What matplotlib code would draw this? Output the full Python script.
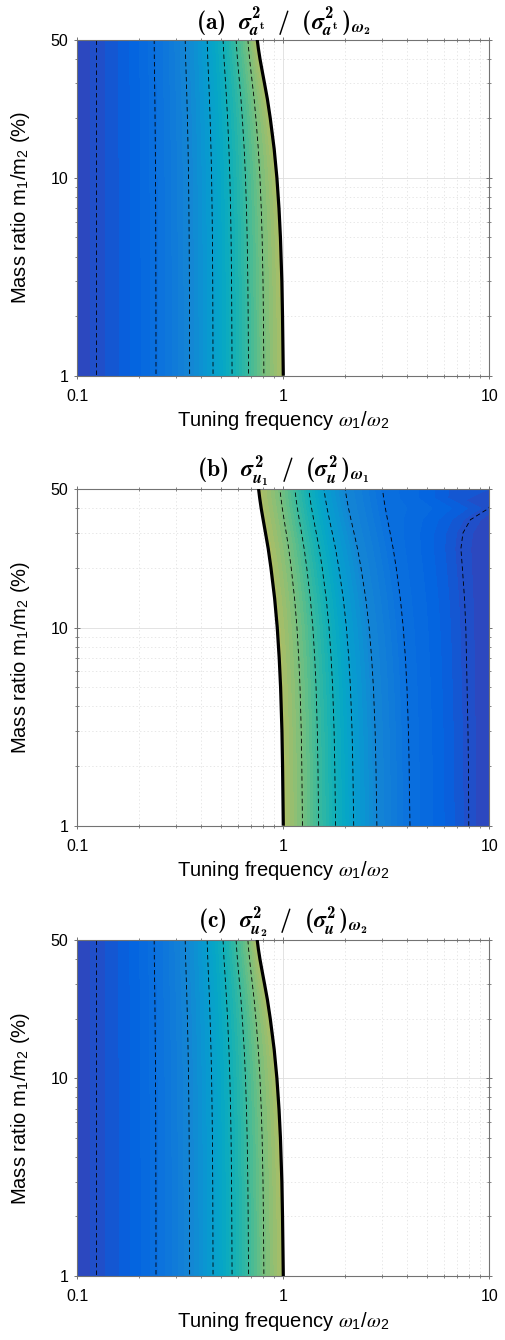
import numpy as np
import matplotlib
matplotlib.use('Agg')
import matplotlib.pyplot as plt
from matplotlib.colors import LinearSegmentedColormap, Normalize
from matplotlib.ticker import LogLocator, NullFormatter, FixedLocator

plt.rcParams['font.family'] = ['Liberation Sans', 'DejaVu Sans']
plt.rcParams['mathtext.fontset'] = 'custom'
plt.rcParams['mathtext.rm'] = 'cmb10'
plt.rcParams['mathtext.bf'] = 'cmb10'
plt.rcParams['mathtext.it'] = 'STIXGeneral:italic:bold'
plt.rcParams['lines.scale_dashes'] = False

# ---------------- data ----------------
# Mass ratio rows (%) shared by all panels
mass_a = [1, 2, 3, 5, 7, 10, 14, 20, 25, 30, 35, 40, 45, 50]
# Panel (a): contour value of each column; omega_a = position of that value
levels_a = [0.10, 0.125, 0.25, 0.375, 0.5, 0.625, 0.75, 0.875, 1.0]
omega_a = [
    [0.1, 0.123, 0.2410, 0.3510, 0.4560, 0.5640, 0.6780, 0.8050, 1.0000],
    [0.1, 0.123, 0.2409, 0.3505, 0.4551, 0.5623, 0.6752, 0.8007, 0.9913],
    [0.1, 0.123, 0.2407, 0.3500, 0.4544, 0.5609, 0.6728, 0.7971, 0.9841],
    [0.1, 0.123, 0.2404, 0.3491, 0.4527, 0.5578, 0.6677, 0.7893, 0.9684],
    [0.1, 0.123, 0.2402, 0.3481, 0.4511, 0.5547, 0.6626, 0.7815, 0.9530],
    [0.1, 0.123, 0.2398, 0.3468, 0.4487, 0.5503, 0.6553, 0.7704, 0.9310],
    [0.1, 0.123, 0.2392, 0.3449, 0.4456, 0.5445, 0.6459, 0.7561, 0.9029],
    [0.1, 0.123, 0.2385, 0.3424, 0.4412, 0.5363, 0.6325, 0.7360, 0.8643],
    [0.1, 0.123, 0.2380, 0.3405, 0.4380, 0.5304, 0.6229, 0.7217, 0.8370],
    [0.1, 0.123, 0.2374, 0.3387, 0.4349, 0.5246, 0.6135, 0.7076, 0.8106],
    [0.1, 0.123, 0.2370, 0.3371, 0.4322, 0.5196, 0.6055, 0.6956, 0.7884],
    [0.1, 0.123, 0.2365, 0.3357, 0.4299, 0.5154, 0.5988, 0.6857, 0.7702],
    [0.1, 0.123, 0.2363, 0.3347, 0.4282, 0.5123, 0.5938, 0.6784, 0.7568],
    [0.1, 0.123, 0.2361, 0.3340, 0.4269, 0.5100, 0.5901, 0.6730, 0.7470],
]

# Panel (c) (same look as panel (a))
mass_c = [1, 2, 3, 5, 7, 10, 14, 20, 25, 30, 35, 40, 45, 50]
levels_c = [0.10, 0.125, 0.25, 0.375, 0.5, 0.625, 0.75, 0.875, 1.0]
omega_c = [
    [0.1, 0.123, 0.2410, 0.3510, 0.4560, 0.5640, 0.6780, 0.8050, 1.0000],
    [0.1, 0.123, 0.2409, 0.3505, 0.4551, 0.5623, 0.6752, 0.8007, 0.9913],
    [0.1, 0.123, 0.2407, 0.3500, 0.4544, 0.5609, 0.6728, 0.7971, 0.9841],
    [0.1, 0.123, 0.2404, 0.3491, 0.4527, 0.5578, 0.6677, 0.7893, 0.9684],
    [0.1, 0.123, 0.2402, 0.3481, 0.4511, 0.5547, 0.6626, 0.7815, 0.9530],
    [0.1, 0.123, 0.2398, 0.3468, 0.4487, 0.5503, 0.6553, 0.7704, 0.9310],
    [0.1, 0.123, 0.2392, 0.3449, 0.4456, 0.5445, 0.6459, 0.7561, 0.9029],
    [0.1, 0.123, 0.2385, 0.3424, 0.4412, 0.5363, 0.6325, 0.7360, 0.8643],
    [0.1, 0.123, 0.2380, 0.3405, 0.4380, 0.5304, 0.6229, 0.7217, 0.8370],
    [0.1, 0.123, 0.2374, 0.3387, 0.4349, 0.5246, 0.6135, 0.7076, 0.8106],
    [0.1, 0.123, 0.2370, 0.3371, 0.4322, 0.5196, 0.6055, 0.6956, 0.7884],
    [0.1, 0.123, 0.2365, 0.3357, 0.4299, 0.5154, 0.5988, 0.6857, 0.7702],
    [0.1, 0.123, 0.2363, 0.3347, 0.4282, 0.5123, 0.5938, 0.6784, 0.7568],
    [0.1, 0.123, 0.2361, 0.3340, 0.4269, 0.5100, 0.5901, 0.6730, 0.7470],
]

# Panel (b)
mass_b = [1, 2, 3, 5, 7, 10, 14, 20, 25, 30, 35, 40, 45, 50]
levels_b = [1.0, 0.875, 0.75, 0.625, 0.5, 0.375, 0.25]
low_value_b = [0.125, 0.125, 0.125, 0.125, 0.125, 0.125, 0.125,
               0.125, 0.125, 0.125, 0.125, 0.125, 0.145, 0.160]
edge_value_b = [0.100, 0.100, 0.100, 0.100, 0.100, 0.100, 0.100,
                0.100, 0.100, 0.102, 0.110, 0.124, 0.132, 0.140]
omega_b = [
    [1.0000, 1.2392, 1.4845, 1.7939, 2.1968, 2.8464, 4.1200, 7.95, 10.0],
    [0.9917, 1.2298, 1.4726, 1.7779, 2.1752, 2.8164, 4.0822, 7.92, 10.0],
    [0.9849, 1.2222, 1.4628, 1.7645, 2.1572, 2.7913, 4.0513, 7.88, 10.0],
    [0.9701, 1.2055, 1.4421, 1.7359, 2.1179, 2.7378, 3.9829, 7.80, 10.0],
    [0.9554, 1.1885, 1.4210, 1.7074, 2.0797, 2.6847, 3.9165, 7.75, 10.0],
    [0.9346, 1.1650, 1.3912, 1.6670, 2.0249, 2.6097, 3.8211, 7.69, 10.0],
    [0.9078, 1.1345, 1.3527, 1.6153, 1.9552, 2.5136, 3.7000, 7.58, 10.0],
    [0.8710, 1.0925, 1.2999, 1.5444, 1.8603, 2.3833, 3.5332, 7.40, 10.0],
    [0.8449, 1.0624, 1.2625, 1.4941, 1.7935, 2.2925, 3.4156, 7.28, 10.0],
    [0.8196, 1.0335, 1.2261, 1.4454, 1.7290, 2.2045, 3.3018, 7.45, 10.0],
    [0.7984, 1.0090, 1.1955, 1.4047, 1.6749, 2.1316, 3.2066, 8.10, 10.0],
    [0.7809, 0.9888, 1.1700, 1.3714, 1.6312, 2.0722, 3.1285, 9.95, 10.0],
    [0.7681, 0.9739, 1.1517, 1.3470, 1.5988, 2.0282, 3.0714, 7.00, 10.0],
    [0.7586, 0.9629, 1.1379, 1.3289, 1.5751, 1.9963, 3.0292, 6.50, 10.0],
]
values_b = [levels_b + [lo, ed] for lo, ed in zip(low_value_b, edge_value_b)]

dashed_levels = [0.125, 0.25, 0.375, 0.5, 0.625, 0.75, 0.875]
boundary_level = 1.0

titles = [
    r'$\mathrm{(a)}\ \ \sigma^2_{a^\mathrm{t}}\ \ /\ \ (\sigma^2_{a^\mathrm{t}}\,)_{\omega_2}$',
    r'$\mathrm{(b)}\ \ \sigma^2_{u_1}\ \ /\ \ (\sigma^2_{u}\,)_{\omega_1}$',
    r'$\mathrm{(c)}\ \ \sigma^2_{u_2}\ \ /\ \ (\sigma^2_{u}\,)_{\omega_2}$',
]

# ---------------- style ----------------
parula_anchors = [
    (0.2081, 0.1663, 0.5292), (0.1959, 0.2645, 0.7279), (0.0117, 0.3875, 0.8820),
    (0.0498, 0.4586, 0.8641), (0.0793, 0.5200, 0.8312), (0.0343, 0.5966, 0.8199),
    (0.0228, 0.6535, 0.7768), (0.0843, 0.6928, 0.7062), (0.2178, 0.7250, 0.6193),
    (0.3953, 0.7459, 0.5244), (0.5709, 0.7485, 0.4494), (0.7248, 0.7384, 0.3675),
    (0.8640, 0.7218, 0.2866), (0.9706, 0.7312, 0.2348), (0.9865, 0.8033, 0.1765),
    (0.9597, 0.8952, 0.1295), (0.9763, 0.9831, 0.0538),
]
parula = LinearSegmentedColormap.from_list('parula_like', parula_anchors, N=256)
norm = Normalize(vmin=0.0, vmax=1.5)
fill_levels = np.arange(0, 44) * 1.5 / 64

W, H = 506, 1340
fig = plt.figure(figsize=(W / 100, H / 100), dpi=100)

panel_px = [(39.5, 375.7), (489.0, 825.7), (940.0, 1276.0)]
left_px, right_px = 77.3, 489.3

datasets = [
    (omega_a, mass_a, [levels_a] * len(mass_a)),
    (omega_b, mass_b, values_b),
    (omega_c, mass_c, [levels_c] * len(mass_c)),
]

for k, ((om, ms, vals), (top, bot)) in enumerate(zip(datasets, panel_px)):
    ax = fig.add_axes([left_px / W, 1 - bot / H, (right_px - left_px) / W, (bot - top) / H])
    X = np.array(om, dtype=float)
    Y = np.repeat(np.array(ms, dtype=float)[:, None], X.shape[1], axis=1)
    Z = np.array(vals, dtype=float)

    ax.set_xscale('log')
    ax.set_yscale('log')
    ax.contourf(X, Y, Z, levels=fill_levels, cmap=parula, norm=norm, zorder=1)
    ax.contour(X, Y, Z, levels=[l - 1e-9 for l in dashed_levels], colors='k',
               linewidths=0.6, linestyles=[(0, (3.2, 2.2))], zorder=2)
    ax.contour(X, Y, Z, levels=[boundary_level - 1e-9], colors='k', linewidths=2.3, zorder=3)

    ax.set_xlim(0.1, 10)
    ax.set_ylim(1, 50)
    ax.set_xticks([0.1, 1, 10], ['0.1', '1', '10'])
    ax.set_yticks([1, 10, 50], ['1', '10', '50'])
    ax.xaxis.set_minor_locator(LogLocator(base=10, subs=np.arange(2, 10)))
    ax.xaxis.set_minor_formatter(NullFormatter())
    ax.yaxis.set_minor_locator(FixedLocator([2, 3, 4, 5, 6, 7, 8, 9, 20, 30, 40]))
    ax.yaxis.set_minor_formatter(NullFormatter())

    ax.set_axisbelow(True)
    ax.grid(which='major', color='0.87', lw=0.6, ls='-')
    ax.grid(which='minor', color='0.89', lw=0.6, ls=':')
    ax.tick_params(which='both', direction='inout', top=True, right=True,
                   color='0.45', labelcolor='k', labelsize=11.5)
    ax.tick_params(which='major', length=5, width=0.7)
    ax.tick_params(which='minor', length=3, width=0.6)
    ax.tick_params(axis='x', pad=7)
    ax.tick_params(axis='y', pad=4)
    for s in ax.spines.values():
        s.set_color('0.45')
        s.set_linewidth(0.8)

    ax.set_xlabel(r'Tuning frequency $\omega_\mathregular{1}$/$\omega_\mathregular{2}$',
                  fontsize=14.5, math_fontfamily='stix', labelpad=4)
    ax.set_ylabel(r'Mass ratio m$_\mathregular{1}$/m$_\mathregular{2}$ (%)',
                  fontsize=14.5, labelpad=13)
    ax.set_title(titles[k], fontsize=17, pad=3)

fig.savefig('out.png', dpi=100)
